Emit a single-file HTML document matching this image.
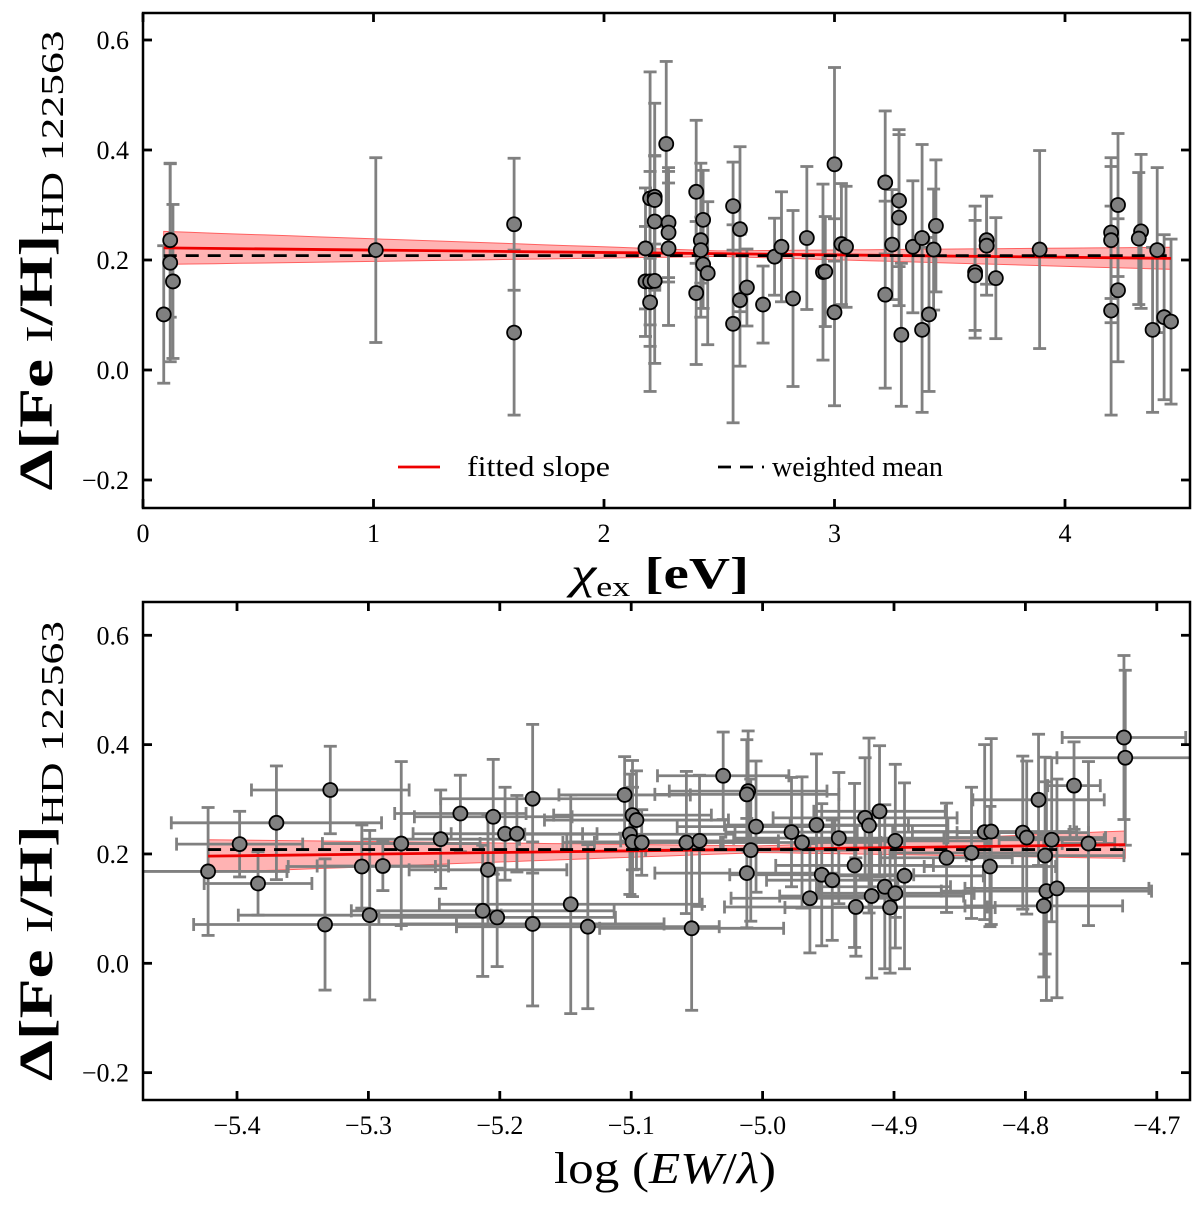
<!DOCTYPE html>
<html><head><meta charset="utf-8">
<style>
html,body{margin:0;padding:0;background:#fff;}
svg{display:block;font-family:"Liberation Serif",serif;}
</style></head>
<body>
<svg id="chart" width="1200" height="1205" viewBox="0 0 1200 1205" xmlns="http://www.w3.org/2000/svg"></svg>
<script>
// ---- Top panel data (chi_ex, delta Fe/H, error)
const topChi = [0.09,0.118,0.118,0.13,1.01,1.61,1.61,2.18,2.20,2.22,2.22,2.22,2.18,2.20,2.22,2.20,2.27,2.28,2.28,2.28,2.40,2.40,2.42,2.42,2.43,2.43,2.45,2.56,2.56,2.59,2.59,2.62,2.69,2.74,2.77,2.82,2.88,2.95,2.96,3.00,3.00,3.03,3.05,3.22,3.22,3.25,3.28,3.28,3.29,3.34,3.38,3.38,3.41,3.43,3.44,3.61,3.61,3.66,3.66,3.70,3.89,4.20,4.20,4.20,4.23,4.23,4.33,4.32,4.38,4.40,4.43,4.46];
const topVal = [0.101,0.236,0.195,0.161,0.218,0.265,0.068,0.221,0.312,0.315,0.309,0.270,0.161,0.161,0.162,0.123,0.411,0.268,0.250,0.221,0.324,0.140,0.236,0.218,0.273,0.192,0.176,0.298,0.084,0.256,0.127,0.150,0.119,0.206,0.224,0.130,0.240,0.178,0.179,0.374,0.105,0.229,0.224,0.341,0.137,0.228,0.308,0.277,0.064,0.224,0.240,0.073,0.101,0.219,0.262,0.178,0.172,0.236,0.226,0.167,0.219,0.250,0.236,0.108,0.300,0.145,0.252,0.239,0.073,0.218,0.096,0.088];
const topErr = [0.125,0.14,0.18,0.14,0.168,0.12,0.15,0.11,0.23,0.17,0.08,0.12,0.1,0.2,0.15,0.08,0.15,0.1,0.09,0.14,0.13,0.13,0.14,0.06,0.09,0.08,0.13,0.08,0.18,0.15,0.12,0.07,0.07,0.07,0.1,0.16,0.13,0.16,0.1,0.176,0.17,0.11,0.11,0.13,0.17,0.1,0.12,0.16,0.13,0.12,0.17,0.15,0.14,0.11,0.12,0.12,0.1,0.08,0.09,0.11,0.18,0.12,0.15,0.19,0.13,0.13,0.14,0.12,0.15,0.15,0.15,0.15];
const topXTicks = [0,1,2,3,4];
const topXTickLabels = ["0","1","2","3","4"];
const topFitX = [0.09,4.46];
const topFitY = [0.222,0.203];
const topBandX = [0.09,2.5,4.46];
const topBandHalf = [0.030,0.005,0.020];
const topMean = 0.208;

// ---- Bottom panel data (log EW/lambda, delta Fe/H, xerr, yerr)
const botLogEW = [-5.422,-5.398,-5.384,-5.370,-5.329,-5.333,-5.305,-5.299,-5.289,-5.275,-5.245,-5.230,-5.209,-5.213,-5.205,-5.202,-5.196,-5.187,-5.175,-5.175,-5.146,-5.133,-5.105,-5.099,-5.096,-5.101,-5.099,-5.092,-5.058,-5.048,-5.054,-5.030,-5.011,-5.012,-5.005,-5.009,-5.012,-4.978,-4.970,-4.959,-4.964,-4.955,-4.947,-4.942,-4.930,-4.929,-4.922,-4.919,-4.911,-4.917,-4.907,-4.899,-4.903,-4.899,-4.892,-4.860,-4.841,-4.831,-4.826,-4.827,-4.802,-4.799,-4.790,-4.780,-4.785,-4.784,-4.776,-4.786,-4.763,-4.752,-4.725,-4.724];
const botVal = [0.168,0.218,0.146,0.257,0.317,0.071,0.177,0.088,0.178,0.219,0.227,0.274,0.171,0.096,0.268,0.084,0.237,0.237,0.301,0.072,0.108,0.067,0.308,0.271,0.262,0.236,0.222,0.221,0.221,0.224,0.064,0.343,0.315,0.309,0.250,0.207,0.165,0.240,0.221,0.253,0.119,0.162,0.152,0.229,0.179,0.103,0.266,0.252,0.278,0.123,0.140,0.128,0.102,0.224,0.160,0.193,0.202,0.240,0.241,0.177,0.239,0.230,0.299,0.226,0.197,0.132,0.137,0.105,0.325,0.219,0.413,0.376];
const botXErr = [0.06,0.048,0.041,0.08,0.06,0.1,0.056,0.1,0.05,0.06,0.06,0.05,0.06,0.1,0.06,0.09,0.07,0.05,0.07,0.1,0.1,0.1,0.05,0.06,0.07,0.08,0.05,0.06,0.07,0.06,0.07,0.05,0.06,0.07,0.06,0.08,0.07,0.05,0.06,0.07,0.06,0.07,0.05,0.08,0.06,0.1,0.07,0.06,0.05,0.07,0.05,0.06,0.08,0.07,0.06,0.05,0.06,0.07,0.06,0.05,0.05,0.06,0.05,0.04,0.06,0.08,0.07,0.06,0.02,0.02,0.047,0.052];
const botYErr = [0.117,0.06,0.058,0.104,0.08,0.12,0.076,0.155,0.045,0.15,0.09,0.07,0.1,0.12,0.105,0.09,0.085,0.07,0.136,0.15,0.2,0.15,0.07,0.1,0.09,0.11,0.1,0.06,0.13,0.12,0.15,0.08,0.11,0.1,0.12,0.13,0.1,0.1,0.12,0.13,0.1,0.13,0.11,0.12,0.15,0.09,0.11,0.16,0.12,0.15,0.15,0.1,0.12,0.14,0.17,0.1,0.12,0.16,0.17,0.11,0.14,0.14,0.12,0.15,0.18,0.2,0.2,0.13,0.08,0.15,0.15,0.16];
const botXTicks = [-5.4,-5.3,-5.2,-5.1,-5.0,-4.9,-4.8,-4.7];
const botXTickLabels = ["\u22125.4","\u22125.3","\u22125.2","\u22125.1","\u22125.0","\u22124.9","\u22124.8","\u22124.7"];
const botFitX = [-5.422,-4.724];
const botFitY = [0.196,0.217];
const botBandX = [-5.422,-5.0,-4.724];
const botBandHalf = [0.030,0.006,0.025];
const botMean = 0.208;

const yTicks = [-0.2,0.0,0.2,0.4,0.6];
const yTickLabels = ["\u22120.2","0.0","0.2","0.4","0.6"];

const NS = "http://www.w3.org/2000/svg";
const svg = document.getElementById('chart');
function mk(tag, attrs, parent){
  const e = document.createElementNS(NS, tag);
  for (const k in attrs) e.setAttribute(k, attrs[k]);
  (parent||svg).appendChild(e);
  return e;
}
function interp(xs, ys, x){
  if (x<=xs[0]) return ys[0];
  for (let i=1;i<xs.length;i++){ if (x<=xs[i]){ const t=(x-xs[i-1])/(xs[i]-xs[i-1]); return ys[i-1]+t*(ys[i]-ys[i-1]); } }
  return ys[ys.length-1];
}

function panel(o){
  const L=143,R=1190,T=o.top,B=o.bottom;
  const sx = v => L + (v-o.xmin)/(o.xmax-o.xmin)*(R-L);
  const sy = v => B - (v-o.ymin)/(o.ymax-o.ymin)*(B-T);
  const g = mk('g',{});
  
  
  const n=40; let up=[], dn=[];
  for (let i=0;i<=n;i++){
    const x = o.fitX[0] + (o.fitX[1]-o.fitX[0])*i/n;
    const yc = interp(o.fitX,o.fitY,x), h = interp(o.bandX,o.bandHalf,x);
    up.push(sx(x).toFixed(1)+','+sy(yc+h).toFixed(1));
    dn.unshift(sx(x).toFixed(1)+','+sy(yc-h).toFixed(1));
  }
  const band = mk('polygon',{points:up.concat(dn).join(' '),fill:'#ff8080','fill-opacity':0.6,stroke:'#ff6060','stroke-width':1},g);
  
  
  const eg = mk('g',{stroke:'#808080','stroke-width':2.8,fill:'none'},g);
  
  
  for (let i=0;i<o.xs.length;i++){
    const x=sx(o.xs[i]), y1=sy(o.ys[i]+o.ye[i]), y2=sy(o.ys[i]-o.ye[i]);
    mk('line',{x1:x,x2:x,y1:y1,y2:y2},eg);
    mk('line',{x1:x-6.5,x2:x+6.5,y1:y1,y2:y1},eg);
    mk('line',{x1:x-6.5,x2:x+6.5,y1:y2,y2:y2},eg);
    if (o.xe){
      const y=sy(o.ys[i]), xa=Math.max(L,sx(o.xs[i]-o.xe[i])), xb=Math.min(R,sx(o.xs[i]+o.xe[i]));
      mk('line',{x1:xa,x2:xb,y1:y,y2:y},eg);
      if (xa>L) mk('line',{x1:xa,x2:xa,y1:y-6.5,y2:y+6.5},eg);
      if (xb<R) mk('line',{x1:xb,x2:xb,y1:y-6.5,y2:y+6.5},eg);
    }
  }
  const fl = mk('line',{x1:sx(o.fitX[0]),x2:sx(o.fitX[1]),y1:sy(o.fitY[0]),y2:sy(o.fitY[1]),stroke:'#ee0000','stroke-width':2.8},g);
  
  
  const ml = mk('line',{x1:sx(o.fitX[0]),x2:sx(o.fitX[1]),y1:sy(o.mean),y2:sy(o.mean),stroke:'#000','stroke-width':2.8,'stroke-dasharray':'13,9'},g);
  
  
  for (let i=0;i<o.xs.length;i++){
    const c = mk('circle',{cx:sx(o.xs[i]),cy:sy(o.ys[i]),r:7,fill:'#808080',stroke:'#000','stroke-width':1.8},g);
    
    
  }
  const fr = mk('rect',{x:L,y:T,width:R-L,height:B-T,fill:'none',stroke:'#000','stroke-width':2.5},g);
  
  
  o.xticks.forEach((t,i)=>{
    const x=sx(t);
    mk('line',{x1:x,x2:x,y1:B,y2:B-9,stroke:'#000','stroke-width':2.8},g);
    mk('line',{x1:x,x2:x,y1:T,y2:T+9,stroke:'#000','stroke-width':2.8},g);
    const tx = mk('text',{x:x,y:B+34,'text-anchor':'middle','font-size':26},g);
    tx.textContent = o.xlabels[i];
    
    
  });
  yTicks.forEach((t,i)=>{
    const y=sy(t);
    mk('line',{x1:L,x2:L+9,y1:y,y2:y,stroke:'#000','stroke-width':2.8},g);
    mk('line',{x1:R,x2:R-9,y1:y,y2:y,stroke:'#000','stroke-width':2.8},g);
    const tx = mk('text',{x:129,y:y+9,'text-anchor':'end','font-size':26},g);
    tx.textContent = yTickLabels[i];
    
    
  });
  const cy=(T+B)/2;
  const yt = mk('text',{x:0,y:0,transform:`translate(52,${cy}) rotate(-90)`,'text-anchor':'middle','font-size':48,'font-weight':'bold',textLength:460,lengthAdjust:'spacingAndGlyphs'},g);
  yt.innerHTML = '\u0394[Fe <tspan font-weight="normal" font-size="38">I</tspan>/H]<tspan font-weight="normal" font-size="32" dy="11">HD 122563</tspan>';
  
  
}

panel({name:'excitation-panel',top:13,bottom:508,xmin:0,xmax:(1190-143)/230.5,ymin:-(508-370)/550,ymax:(370-13)/550,
  xs:topChi,ys:topVal,ye:topErr,xe:null,xticks:topXTicks,xlabels:topXTickLabels,
  fitX:topFitX,fitY:topFitY,bandX:topBandX,bandHalf:topBandHalf,mean:topMean});
panel({name:'ew-panel',top:602,bottom:1100,xmin:-5.4-(237-143)/1314,xmax:-5.4+(1190-237)/1314,ymin:-(1100-963.3)/546.7,ymax:(963.3-602)/546.7,
  xs:botLogEW,ys:botVal,ye:botYErr,xe:botXErr,xticks:botXTicks,xlabels:botXTickLabels,
  fitX:botFitX,fitY:botFitY,bandX:botBandX,bandHalf:botBandHalf,mean:botMean});

const lg = mk('g',{});


mk('line',{x1:398,x2:440,y1:467,y2:467,stroke:'#ee0000','stroke-width':2.8},lg);
const l1 = mk('text',{x:467,y:476,'font-size':28,textLength:143,lengthAdjust:'spacingAndGlyphs'},lg); l1.textContent='fitted slope';


mk('line',{x1:718,x2:764,y1:467,y2:467,stroke:'#000','stroke-width':2.8,'stroke-dasharray':'13,9'},lg);
const l2 = mk('text',{x:772,y:476,'font-size':28,textLength:171,lengthAdjust:'spacingAndGlyphs'},lg); l2.textContent='weighted mean';



const xt1 = mk('text',{x:660,y:588,'text-anchor':'middle','font-size':44,'font-weight':'bold',textLength:178,lengthAdjust:'spacingAndGlyphs'});
xt1.innerHTML = '<tspan font-style="italic" font-weight="normal">\u03C7</tspan><tspan font-weight="normal" font-size="28" dy="8">ex</tspan><tspan dy="-8"> [eV]</tspan>';


const xt2 = mk('text',{x:665,y:1183,'text-anchor':'middle','font-size':44,textLength:222,lengthAdjust:'spacingAndGlyphs'});
xt2.innerHTML = 'log (<tspan font-style="italic">EW</tspan>/<tspan font-style="italic">\u03BB</tspan>)';


</script>
</body></html>
